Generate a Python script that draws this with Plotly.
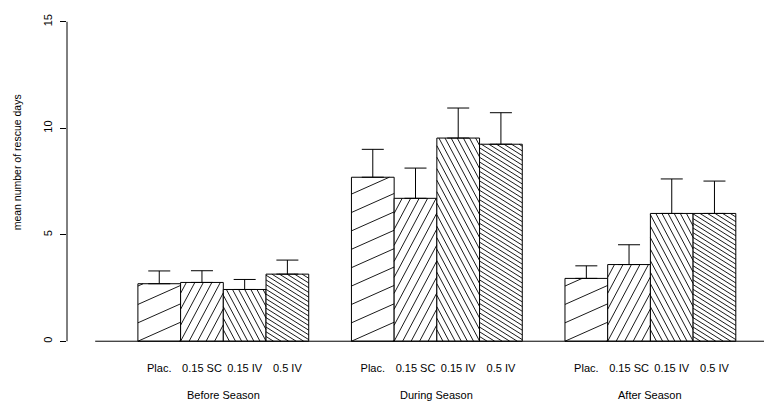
import numpy as np
import plotly.graph_objects as go

# ---- data ----
groups = ["Before Season", "During Season", "After Season"]
treatments = ["Plac.", "0.15 SC", "0.15 IV", "0.5 IV"]
plac_mean = [2.70, 7.70, 2.95]
sc015_mean = [2.76, 6.71, 3.60]
iv015_mean = [2.43, 9.54, 6.00]
iv05_mean = [3.15, 9.25, 6.00]
plac_err = [0.60, 1.31, 0.59]
sc015_err = [0.55, 1.42, 0.93]
iv015_err = [0.47, 1.41, 1.62]
iv05_err = [0.66, 1.48, 1.52]
y_ticks = [0, 5, 10, 15]

means = [plac_mean, sc015_mean, iv015_mean, iv05_mean]
errs = [plac_err, sc015_err, iv015_err, iv05_err]
# hatch: (angle in degrees, perpendicular spacing px)
hatch = [(24, 16.8), (62, 7.5), (118, 5.4), (148, 4.0)]

# ---- layout geometry ----
W, H = 764, 406
ML, MR, MT, MB = 67, 0, 9, 52
XR = [-0.66, 15.66]
YR = [-0.6, 15.6]
pxx = (W - ML - MR) / (XR[1] - XR[0])
pxy = (H - MT - MB) / (YR[1] - YR[0])

FONT = "Liberation Sans, Arial, Helvetica, sans-serif"


def hatch_lines(x0, x1, h, ang, sp):
    """Return data-coordinate line segments hatching rect [x0,x1]x[0,h]."""
    wp, hp = (x1 - x0) * pxx, h * pxy
    th = np.radians(ang)
    u = np.array([np.cos(th), np.sin(th)])
    n = np.array([-np.sin(th), np.cos(th)])
    corners = np.array([[0, 0], [wp, 0], [0, hp], [wp, hp]])
    cs = corners @ n
    xs, ys = [], []
    c = np.floor(cs.min() / sp) * sp
    while c <= cs.max():
        p0 = c * n
        t0, t1 = -1e9, 1e9
        ok = True
        for k, (lo, hi) in enumerate([(0, wp), (0, hp)]):
            if abs(u[k]) < 1e-12:
                if p0[k] < lo or p0[k] > hi:
                    ok = False
            else:
                ta, tb = (lo - p0[k]) / u[k], (hi - p0[k]) / u[k]
                t0, t1 = max(t0, min(ta, tb)), min(t1, max(ta, tb))
        if ok and t1 - t0 > 0.5:
            a, b = p0 + t0 * u, p0 + t1 * u
            xs += [x0 + a[0] / pxx, x0 + b[0] / pxx, None]
            ys += [a[1] / pxy, b[1] / pxy, None]
        c += sp
    return xs, ys


fig = go.Figure()
centers_all, labels_all = [], []
for i, name in enumerate(treatments):
    xc = [1 + g * 5 + i + 0.5 for g in range(len(groups))]
    centers_all += xc
    labels_all += [name] * len(groups)
    fig.add_trace(go.Bar(
        x=xc, y=means[i], width=1,
        marker=dict(color="white", line=dict(color="black", width=1)),
        error_y=dict(type="data", symmetric=False, array=errs[i],
                     arrayminus=[0] * len(groups), color="black",
                     thickness=1, width=11),
        showlegend=False, hoverinfo="skip"))
for i, name in enumerate(treatments):
    hx, hy = [], []
    for g in range(len(groups)):
        x0 = 1 + g * 5 + i
        a, b = hatch_lines(x0, x0 + 1, means[i][g], *hatch[i])
        hx += a
        hy += b
    fig.add_trace(go.Scatter(x=hx, y=hy, mode="lines",
                             line=dict(color="black", width=0.9),
                             showlegend=False, hoverinfo="skip"))

# baseline and y-axis line
fig.add_shape(type="line", xref="x", yref="y", x0=0, x1=XR[1], y0=0, y1=0,
              line=dict(color="black", width=1))
fig.add_shape(type="line", xref="paper", yref="y", x0=0, x1=0,
              y0=y_ticks[0], y1=y_ticks[-1], line=dict(color="black", width=1))

for g, gname in enumerate(groups):
    fig.add_annotation(x=1 + g * 5 + 2, y=0, xref="x", yref="paper",
                       yanchor="top", yshift=-33, text=gname, showarrow=False,
                       font=dict(size=11, color="black", family=FONT))

fig.add_annotation(x=0, xref="paper", xanchor="center", xshift=-50,
                   y=8.4, yref="y", text="mean number of rescue days",
                   textangle=-90, showarrow=False,
                   font=dict(size=10.5, color="black", family=FONT))

fig.update_layout(
    width=W, height=H, margin=dict(l=ML, r=MR, t=MT, b=MB),
    plot_bgcolor="white", paper_bgcolor="white", barmode="overlay",
    font=dict(family=FONT, color="black", size=11),
    xaxis=dict(range=XR, showgrid=False, zeroline=False, showline=False,
               tickvals=centers_all, ticktext=labels_all, ticks="",
               tickfont=dict(size=11), tickangle=0, ticklabelstandoff=6),
    yaxis=dict(range=YR, showgrid=False, zeroline=False, showline=False,
               tickvals=y_ticks, ticks="outside", ticklen=6, tickwidth=1,
               tickcolor="black", tickangle=-90, tickfont=dict(size=11),
               ticklabelstandoff=4),
)

fig.write_html("out.html")
